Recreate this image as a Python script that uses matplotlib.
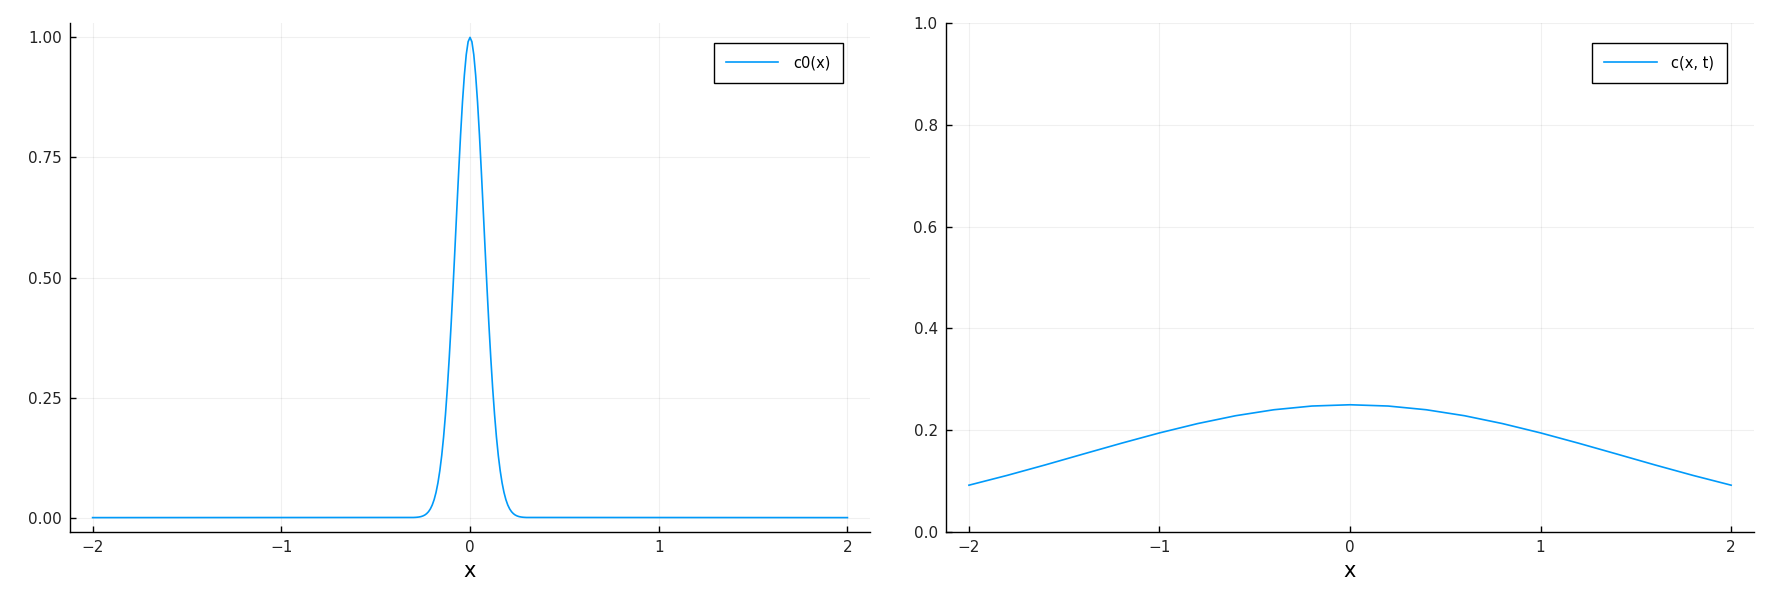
import numpy as np
import matplotlib
matplotlib.use("Agg")
import matplotlib.pyplot as plt

# ---- data ----
x_left = [-2.0,
          -0.30, -0.29, -0.28, -0.27, -0.26, -0.25, -0.24, -0.23, -0.22, -0.21,
          -0.20, -0.19, -0.18, -0.17, -0.16, -0.15, -0.14, -0.13, -0.12, -0.11,
          -0.10, -0.09, -0.08, -0.07, -0.06, -0.05, -0.04, -0.03, -0.02, -0.01,
          0.0,
          0.01, 0.02, 0.03, 0.04, 0.05, 0.06, 0.07, 0.08, 0.09, 0.10,
          0.11, 0.12, 0.13, 0.14, 0.15, 0.16, 0.17, 0.18, 0.19, 0.20,
          0.21, 0.22, 0.23, 0.24, 0.25, 0.26, 0.27, 0.28, 0.29, 0.30,
          2.0]
c0_vals = [0.0,
           0.0003, 0.0005, 0.0008, 0.0013, 0.0021, 0.0034, 0.0053, 0.0082, 0.0123, 0.0182,
           0.0264, 0.0376, 0.0526, 0.0723, 0.0976, 0.129, 0.168, 0.215, 0.270, 0.333,
           0.403, 0.479, 0.559, 0.641, 0.721, 0.797, 0.865, 0.921, 0.964, 0.991,
           1.0,
           0.991, 0.964, 0.921, 0.865, 0.797, 0.721, 0.641, 0.559, 0.479, 0.403,
           0.333, 0.270, 0.215, 0.168, 0.129, 0.0976, 0.0723, 0.0526, 0.0376, 0.0264,
           0.0182, 0.0123, 0.0082, 0.0053, 0.0034, 0.0021, 0.0013, 0.0008, 0.0005, 0.0003,
           0.0]

x_right = [-2.0, -1.8, -1.6, -1.4, -1.2, -1.0, -0.8, -0.6, -0.4, -0.2, 0.0,
           0.2, 0.4, 0.6, 0.8, 1.0, 1.2, 1.4, 1.6, 1.8, 2.0]
c_vals = [0.0920, 0.1112, 0.1318, 0.1532, 0.1744, 0.1947, 0.2130, 0.2285, 0.2402, 0.2475, 0.2500,
          0.2475, 0.2402, 0.2285, 0.2130, 0.1947, 0.1744, 0.1532, 0.1318, 0.1112, 0.0920]

xticks = [-2, -1, 0, 1, 2]
xtick_labels = ["\u22122", "\u22121", "0", "1", "2"]
yticks_left = [0.0, 0.25, 0.50, 0.75, 1.00]
ytick_labels_left = ["0.00", "0.25", "0.50", "0.75", "1.00"]
yticks_right = [0.0, 0.2, 0.4, 0.6, 0.8, 1.0]
ytick_labels_right = ["0.0", "0.2", "0.4", "0.6", "0.8", "1.0"]
labels = ["c0(x)", "c(x, t)"]

LINE = "#009AFA"
plt.rcParams['font.family'] = ['DejaVu Sans']

fig = plt.figure(figsize=(17.8, 6.0), dpi=100)
ax1 = fig.add_axes([0.0393, 0.1133, 0.4495, 0.8484])
ax2 = fig.add_axes([0.5315, 0.1133, 0.4539, 0.8484])


def style(ax):
    for s in ["top", "right"]:
        ax.spines[s].set_visible(False)
    for s in ["left", "bottom"]:
        ax.spines[s].set_color("black")
        ax.spines[s].set_linewidth(1.0)
    ax.grid(True, color="black", alpha=0.06, linewidth=0.8)
    ax.set_axisbelow(True)
    ax.tick_params(direction="in", length=4, width=1, labelsize=11, colors="black",
                   labelcolor="#222222", pad=6)
    ax.set_xlabel("x", fontsize=15, labelpad=4)


ax1.plot(x_left, c0_vals, color=LINE, linewidth=1.2, label=labels[0])
ax1.set_xlim(-2.12, 2.12)
ax1.set_ylim(-0.03, 1.03)
ax1.set_xticks(xticks)
ax1.set_xticklabels(xtick_labels)
ax1.set_yticks(yticks_left)
ax1.set_yticklabels(ytick_labels_left)
style(ax1)

ax2.plot(x_right, c_vals, color=LINE, linewidth=1.2, label=labels[1])
ax2.set_xlim(-2.12, 2.12)
ax2.set_ylim(0.0, 1.0)
ax2.set_xticks(xticks)
ax2.set_xticklabels(xtick_labels)
ax2.set_yticks(yticks_right)
ax2.set_yticklabels(ytick_labels_right)
style(ax2)

for ax in (ax1, ax2):
    leg = ax.legend(loc="upper right", bbox_to_anchor=(0.975, 0.975), fontsize=10.5,
                    frameon=True, fancybox=False, edgecolor="black", framealpha=1.0,
                    handlelength=3.6, handletextpad=1.0, borderpad=0.85)
    leg.get_frame().set_linewidth(1.0)

fig.savefig("out.png", dpi=100)
